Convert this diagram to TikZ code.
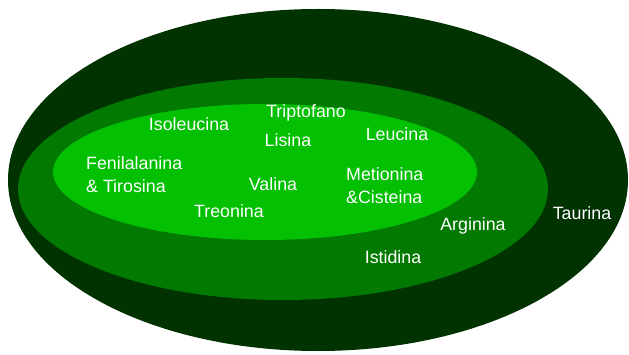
\documentclass[tikz,border=0pt]{standalone}
\usepackage{fontspec}
\setmainfont{Liberation Sans}
\usepackage{tikz}
\usetikzlibrary{positioning}
\definecolor{vertNuit}{HTML}{013301}
\definecolor{vertMoyen}{HTML}{027A02}
\definecolor{vertVif}{HTML}{03C003}
\tikzset{
  couche/.style={fill=#1, draw=none},
  acide/.style={text=white, font=\fontsize{17.8}{23}\selectfont, inner sep=0pt, align=left},
}

\begin{document}
\begin{tikzpicture}[x=1pt, y=-1pt]
    \useasboundingbox[fill=white] (0,0) rectangle (629,355);
    % Couches
    \fill[couche=vertNuit] (318,180) ellipse [x radius=310, y radius=171];
    \fill[couche=vertMoyen] (283,189) ellipse [x radius=265, y radius=111];
    \fill[couche=vertVif] (265,172) ellipse [x radius=212, y radius=68];
    % Couche interne
    \node[acide] (iso) at (189,124) {Isoleucina};
    \node[acide] (trip) at (306,113) {Triptofano};
    \node[acide] (lis) at (288,140) {Lisina};
    \node[acide] (leu) at (397,134) {Leucina};
    \node[acide, anchor=west] (fen) at (86,175) {Fenilalanina\\\& Tirosina};
    \node[acide] (val) at (273,184) {Valina};
    \node[acide, anchor=west] (met) at (346,186) {Metionina\\\&Cisteina};
    \node[acide] (treo) at (229,211) {Treonina};
    % Couche moyenne
    \node[acide] (arg) at (473,226) {Arginina};
    \node[acide] (ist) at (393,257) {Istidina};
    % Couche externe
    \node[acide] (tau) at (582,213) {Taurina};
\end{tikzpicture}
\end{document}
